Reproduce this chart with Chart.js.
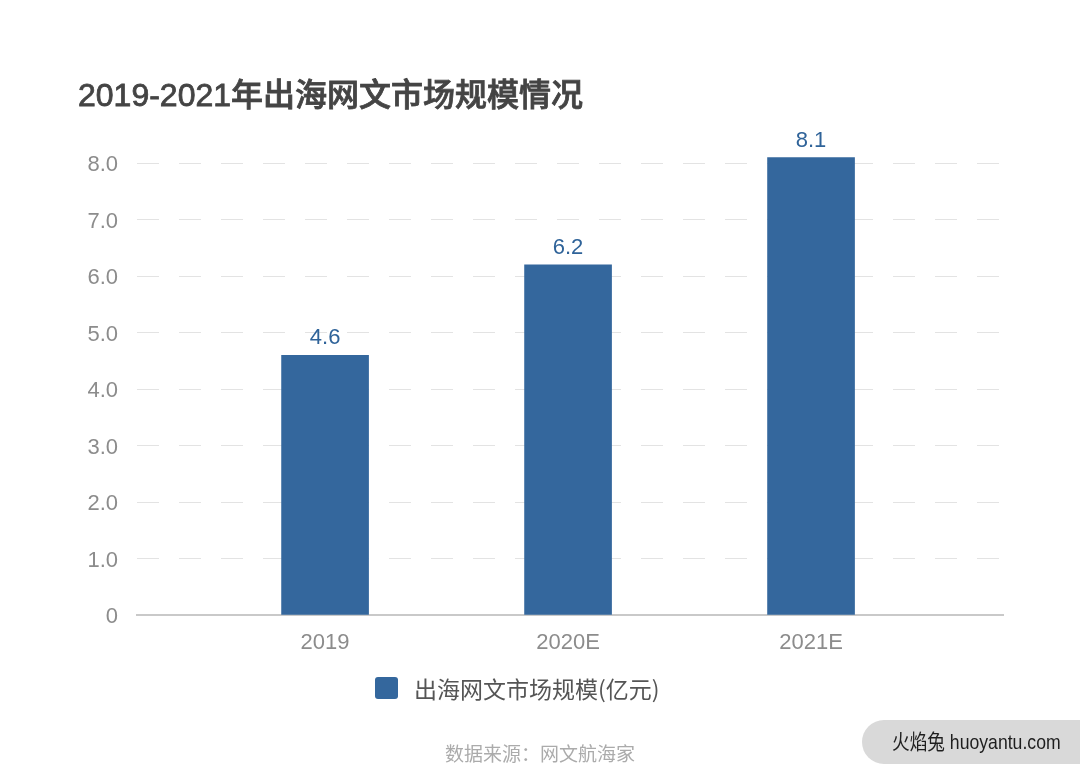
<!DOCTYPE html>
<html><head><meta charset="utf-8">
<script src="https://cdn.jsdelivr.net/npm/chart.js@4/dist/chart.umd.min.js"></script>
<style>html,body{margin:0;padding:0;background:#fff;}#wrap{width:1080px;height:776px;}</style>
</head><body><div id="wrap"><canvas id="c" width="1080" height="776"></canvas></div>
<script>
const chartTitle = '2019-2021年出海网文市场规模情况';
const categories = ['2019', '2020E', '2021E'];
const seriesName = '出海网文市场规模(亿元)';
const values = [4.6, 6.2, 8.1];
const yTicks = [0, 1, 2, 3, 4, 5, 6, 7, 8];
const yTickLabels = ['0', '1.0', '2.0', '3.0', '4.0', '5.0', '6.0', '7.0', '8.0'];
const sourceText = '数据来源：网文航海家';
const watermarkText = '火焰兔 huoyantu.com';

const FONT = "'Liberation Sans', 'Noto Sans CJK SC', sans-serif";
const CJK = "'Noto Sans CJK SC', sans-serif";
const BAR_COLOR = '#34679d';

const overlay = {
  id: 'overlay',
  afterDatasetsDraw(chart) {
    const ctx = chart.ctx;
    ctx.save();
    const meta = chart.getDatasetMeta(0);
    ctx.font = "22px " + FONT;
    ctx.fillStyle = '#2f6399';
    ctx.textAlign = 'center';
    ctx.textBaseline = 'alphabetic';
    meta.data.forEach((el, i) => {
      ctx.fillText(values[i].toFixed(1), el.x, el.y - 11);
    });
    ctx.restore();
  },
  afterDraw(chart) {
    const ctx = chart.ctx;
    ctx.save();
    // title
    ctx.font = "500 32px " + FONT;
    ctx.fillStyle = '#444444';
    ctx.strokeStyle = '#444444';
    ctx.lineWidth = 0.8;
    ctx.textAlign = 'left';
    ctx.textBaseline = 'alphabetic';
    ctx.fillText(chartTitle, 78, 106);
    ctx.strokeText(chartTitle, 78, 106);
    // legend
    const ds = chart.data.datasets[0];
    ctx.fillStyle = ds.backgroundColor;
    ctx.beginPath();
    ctx.roundRect(375, 677, 23, 22, 3);
    ctx.fill();
    ctx.font = "23px " + CJK;
    ctx.fillStyle = '#555555';
    ctx.textBaseline = 'middle';
    ctx.fillText(ds.label, 414, 689);
    // source
    ctx.font = "19px " + CJK;
    ctx.fillStyle = '#ababab';
    ctx.textAlign = 'center';
    ctx.fillText(sourceText, 540, 754);
    // watermark pill
    ctx.fillStyle = '#d9d9d9';
    ctx.beginPath();
    ctx.roundRect(862, 720, 240, 44, 22);
    ctx.fill();
    ctx.font = "21px " + FONT;
    ctx.fillStyle = '#1e1e1e';
    ctx.textAlign = 'left';
    ctx.translate(892, 743);
    ctx.scale(0.84, 1);
    ctx.fillText(watermarkText, 0, 0);
    ctx.restore();
  }
};

new Chart(document.getElementById('c'), {
  type: 'bar',
  data: {
    datasets: [{
      label: seriesName,
      data: values.map((v, i) => ({ x: i, y: v })),
      backgroundColor: BAR_COLOR,
      barThickness: 87
    }]
  },
  options: {
    responsive: false,
    animation: false,
    devicePixelRatio: 1,
    layout: { padding: { left: 60, right: 77, top: 152, bottom: 121 } },
    plugins: { legend: { display: false }, title: { display: false }, tooltip: { enabled: false } },
    scales: {
      x: {
        type: 'linear',
        offset: false,
        bounds: 'data',
        min: -0.774,
        max: 2.79,
        afterBuildTicks: s => { s.ticks = categories.map((c, i) => ({ value: i })); },
        afterFit: s => { s.height = 40; },
        ticks: {
          callback: v => categories[v],
          autoSkip: false, maxRotation: 0,
          padding: 15,
          color: '#8c8c8c',
          font: { family: FONT, size: 22 }
        },
        grid: { display: false, drawTicks: false, offset: false },
        border: { display: true, color: '#c9c9c9', width: 2 }
      },
      y: {
        min: 0,
        max: 8.2,
        afterBuildTicks: s => { s.ticks = yTicks.map(v => ({ value: v })); },
        afterFit: s => { s.width = 77; },
        ticks: {
          callback: v => yTickLabels[yTicks.indexOf(v)],
          padding: 19,
          labelOffset: 2,
          color: '#8c8c8c',
          font: { family: FONT, size: 22 }
        },
        grid: {
          drawTicks: false,
          lineWidth: 1,
          color: c => (c.tick && c.tick.value === 0) ? 'rgba(0,0,0,0)' : '#e3e3e3'
        },
        border: { display: false, dash: [22, 20] }
      }
    }
  },
  plugins: [overlay]
});
</script>
</body></html>
